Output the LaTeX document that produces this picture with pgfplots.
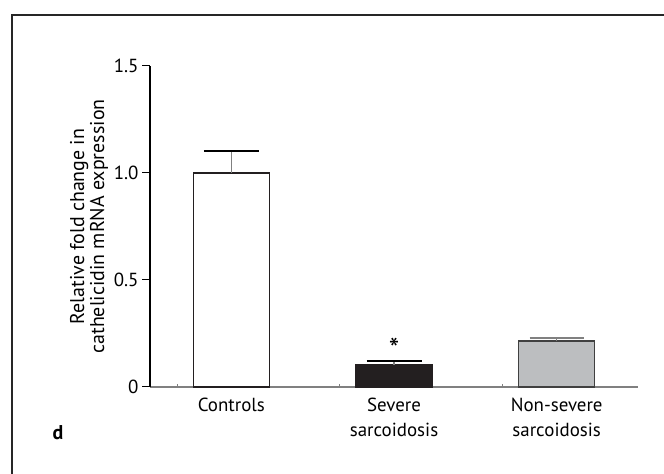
\documentclass[border=0pt]{standalone}
\usepackage{fontspec}
\setmainfont{PT Sans}
\usepackage{pgfplots}
\pgfplotsset{compat=1.18}
\definecolor{barblack}{HTML}{231F20}
\definecolor{bargray}{HTML}{BCBEC0}
\begin{document}
\begin{tikzpicture}[x=1bp,y=1bp, font=\fontsize{19}{24}\selectfont]
\useasboundingbox (0,0) rectangle (664,474);
\draw[line width=1.3bp, black!85] (12,0) -- (12,459) -- (664,459);
\begin{axis}[
  font=\fontsize{19}{24}\selectfont,
  at={(150bp,87bp)}, anchor=south west,
  scale only axis, width=488bp, height=321bp,
  xmin=-0.5, xmax=2.5, ymin=0, ymax=1.5,
  axis x line*=bottom, axis y line*=left,
  x axis line style={draw=gray, line width=1.3bp},
  y axis line style={draw=black, line width=1.1bp},
  /pgf/number format/assume math mode=true,
  ytick={0,0.5,1,1.5}, yticklabels={0,0.5,1.0,1.5},
  tick align=outside, major tick length=8bp,
  ytick style={draw=black, line width=1bp},
  yticklabel style={font=\fontsize{19}{24}\selectfont},
  xtick={0,1,2},
  xticklabels={Controls, Severe\\sarcoidosis, Non-severe\\sarcoidosis},
  xticklabel style={align=center, font=\fontsize{19}{25}\selectfont},
  xtick style={draw=none},
  extra x ticks={-0.333,0.667,1.667},
  extra x tick labels={},
  extra x tick style={xtick style={draw=gray, line width=1bp}, major tick length=3bp, tick align=inside},
  ylabel={Relative fold change in\\cathelicidin mRNA expression},
  ylabel style={align=center, font=\fontsize{20}{20}\selectfont,
    at={(axis description cs:-0.125,0.5)}, anchor=center, rotate=0},
  ybar, bar width=76bp, bar shift=0pt,
  clip=false,
]
\addplot[fill=white, draw=barblack, line width=1.4bp,
  error bars/.cd, y dir=plus, y explicit,
  error bar style={gray, line width=1.2bp},
  error mark options={rotate=90, mark size=27.5bp, black, line width=1.5bp}]
  coordinates {(0,1.0) +- (0,0.103)};
\addplot[fill=barblack, draw=barblack, line width=1.4bp,
  error bars/.cd, y dir=plus, y explicit,
  error bar style={gray, line width=1.2bp},
  error mark options={rotate=90, mark size=27.5bp, black, line width=1.5bp}]
  coordinates {(1,0.103) +- (0,0.018)};
\addplot[fill=bargray, draw=black!75, line width=1.4bp,
  error bars/.cd, y dir=plus, y explicit,
  error bar style={gray, line width=1.2bp},
  error mark options={rotate=90, mark size=27bp, gray, line width=1.5bp}]
  coordinates {(2,0.215) +- (0,0.014)};
\node[anchor=south, inner sep=1bp, font=\fontsize{30}{30}\selectfont] at (axis cs:1,0.121) {*};
\end{axis}
\node[font=\fontsize{20}{20}\selectfont\bfseries] at (58,41) {d};
\end{tikzpicture}
\end{document}
